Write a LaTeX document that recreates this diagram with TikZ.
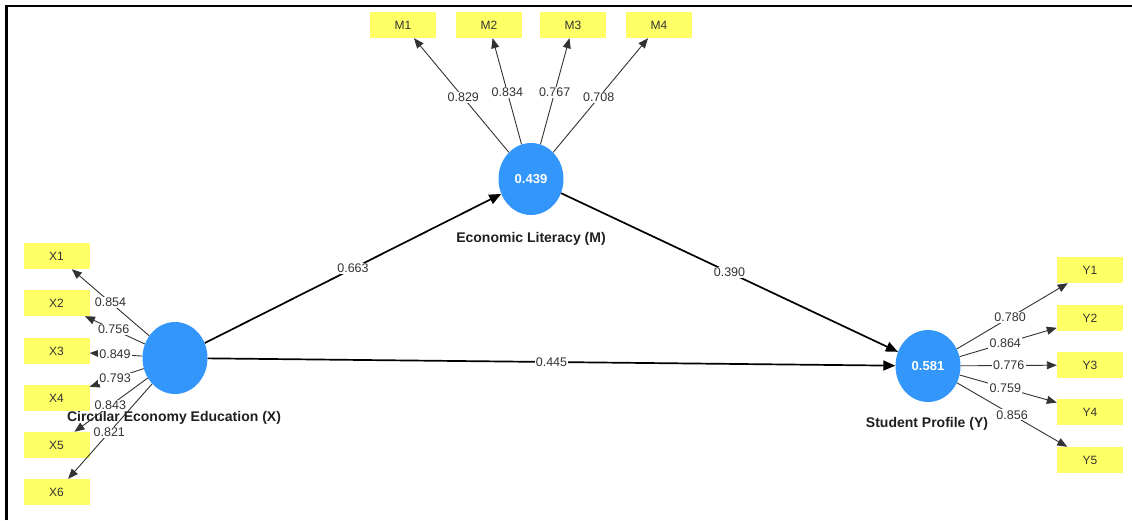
\documentclass[tikz,border=0pt]{standalone}
\usepackage{fontspec}
\setmainfont{Liberation Sans}
\usetikzlibrary{arrows.meta,shapes.geometric}
\definecolor{lvblue}{RGB}{51,150,250}
\definecolor{mvyellow}{RGB}{255,255,102}
\definecolor{loadgray}{RGB}{50,50,50}
\begin{document}
\begin{tikzpicture}[x=1pt,y=-1pt,
  indicator/.style={fill=mvyellow, minimum width=66pt, minimum height=26pt, inner sep=0pt,
    font=\fontsize{12}{14}\selectfont, text=black!80},
  latent/.style={ellipse, fill=lvblue, minimum width=65pt, minimum height=72pt, inner sep=0pt,
    text=white, font=\bfseries\fontsize{13}{15}\selectfont},
  lvtitle/.style={font=\bfseries\fontsize{14}{16}\selectfont, text=black!88},
  structpath/.style={line width=1.7pt, -{Triangle[length=12pt,width=10pt]}},
  loadarrow/.style={line width=0.9pt, draw=loadgray, -{Triangle[length=10pt,width=8pt]}},
  coef/.style={fill=white, inner sep=1.2pt, font=\fontsize{12.5}{14}\selectfont, text=black!80}]
\useasboundingbox (0,0) rectangle (1132,520);
\draw[line width=2.3pt] (6.5,520) -- (6.5,6) -- (1132,6);

% latent variables
\node[latent] (X) at (175,358) {};
\node[latent] (M) at (531,179) {0.439};
\node[latent] (Y) at (928,366) {0.581};

% titles
\node[lvtitle] (tX) at (174,418) {Circular Economy Education (X)};
\node[lvtitle] (tM) at (531,239) {Economic Literacy (M)};
\node[lvtitle] (tY) at (927,424) {Student Profile (Y)};

% indicators
\node[indicator] (X1) at (56.5,256) {X1};
\node[indicator] (X2) at (56.5,303) {X2};
\node[indicator] (X3) at (56.5,351) {X3};
\node[indicator] (X4) at (56.5,398) {X4};
\node[indicator] (X5) at (56.5,445) {X5};
\node[indicator] (X6) at (56.5,492) {X6};
\node[indicator] (M1) at (403,25) {M1};
\node[indicator] (M2) at (489,25) {M2};
\node[indicator] (M3) at (573,25) {M3};
\node[indicator] (M4) at (659,25) {M4};
\node[indicator] (Y1) at (1090,270) {Y1};
\node[indicator] (Y2) at (1090,318) {Y2};
\node[indicator] (Y3) at (1090,365) {Y3};
\node[indicator] (Y4) at (1090,412) {Y4};
\node[indicator] (Y5) at (1090,460) {Y5};

% loadings
\draw[loadarrow] (X) -- (X1) node[coef,pos=0.5] {0.854};
\draw[loadarrow] (X) -- (X2) node[coef,pos=0.52] {0.756};
\draw[loadarrow] (X) -- (X3) node[coef,pos=0.52] {0.849};
\draw[loadarrow] (X) -- (X4) node[coef,pos=0.53] {0.793};
\draw[loadarrow] (X) -- (X5) node[coef,pos=0.51] {0.843};
\draw[loadarrow] (X) -- (X6) node[coef,pos=0.51] {0.821};

\draw[loadarrow] (M) -- (M1) node[coef,pos=0.48] {0.829};
\draw[loadarrow] (M) -- (M2) node[coef,pos=0.49] {0.834};
\draw[loadarrow] (M) -- (M3) node[coef,pos=0.49] {0.767};
\draw[loadarrow] (M) -- (M4) node[coef,pos=0.48] {0.708};

\draw[loadarrow] (Y) -- (Y1) node[coef,pos=0.48] {0.780};
\draw[loadarrow] (Y) -- (Y2) node[coef,pos=0.47] {0.864};
\draw[loadarrow] (Y) -- (Y3) node[coef,pos=0.5] {0.776};
\draw[loadarrow] (Y) -- (Y4) node[coef,pos=0.47] {0.759};
\draw[loadarrow] (Y) -- (Y5) node[coef,pos=0.5] {0.856};

% structural paths
\draw[structpath] (X) -- (M) node[coef,pos=0.5] {0.663};
\draw[structpath] (M) -- (Y) node[coef,pos=0.5] {0.390};
\draw[structpath] (X) -- (Y) node[coef,pos=0.5] {0.445};
\end{tikzpicture}
\end{document}
